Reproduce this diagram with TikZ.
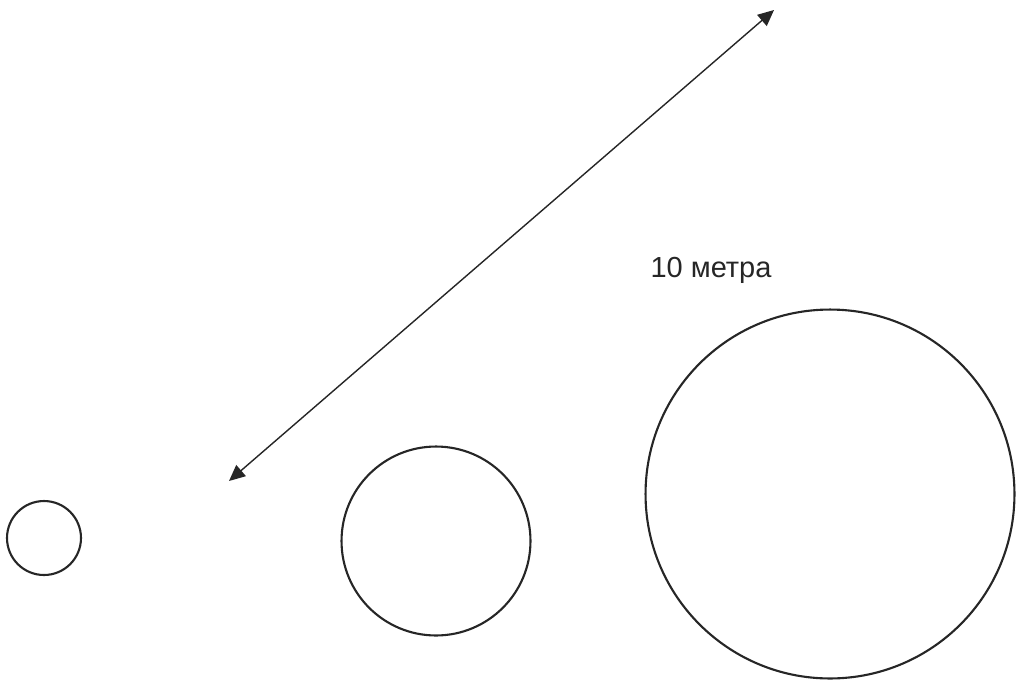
\documentclass[tikz,border=0pt]{standalone}
\usepackage{fontspec}
\setmainfont{Liberation Sans}
\usetikzlibrary{arrows.meta, positioning}
\definecolor{dark}{RGB}{38,38,38}

\begin{document}
\begin{tikzpicture}[
    x=0.02cm, y=-0.02cm,
    ring/.style={circle, draw=dark, line width=1.2pt, inner sep=0pt},
    arr/.style={{Triangle[length=3.2mm, width=2.9mm]}-{Triangle[length=3.2mm, width=2.9mm]}, line width=0.8pt, dark},
]
\useasboundingbox (0,0) rectangle (1017,687);

% Circles
\node[ring, minimum size=1.48cm] (small) at (44,538) {};
\node[ring, minimum size=3.78cm] (medium) at (436,541) {};
\node[ring, minimum size=7.38cm] (large) at (830,494) {};

% Distance
\coordinate (near) at (229,481);
\coordinate (far) at (774,10);
\draw[arr] (near) -- (far);

% Label
\node[font=\fontsize{16.5}{20}\selectfont, text=dark] (dist) at (711,270) {10 метра};

\end{tikzpicture}
\end{document}
